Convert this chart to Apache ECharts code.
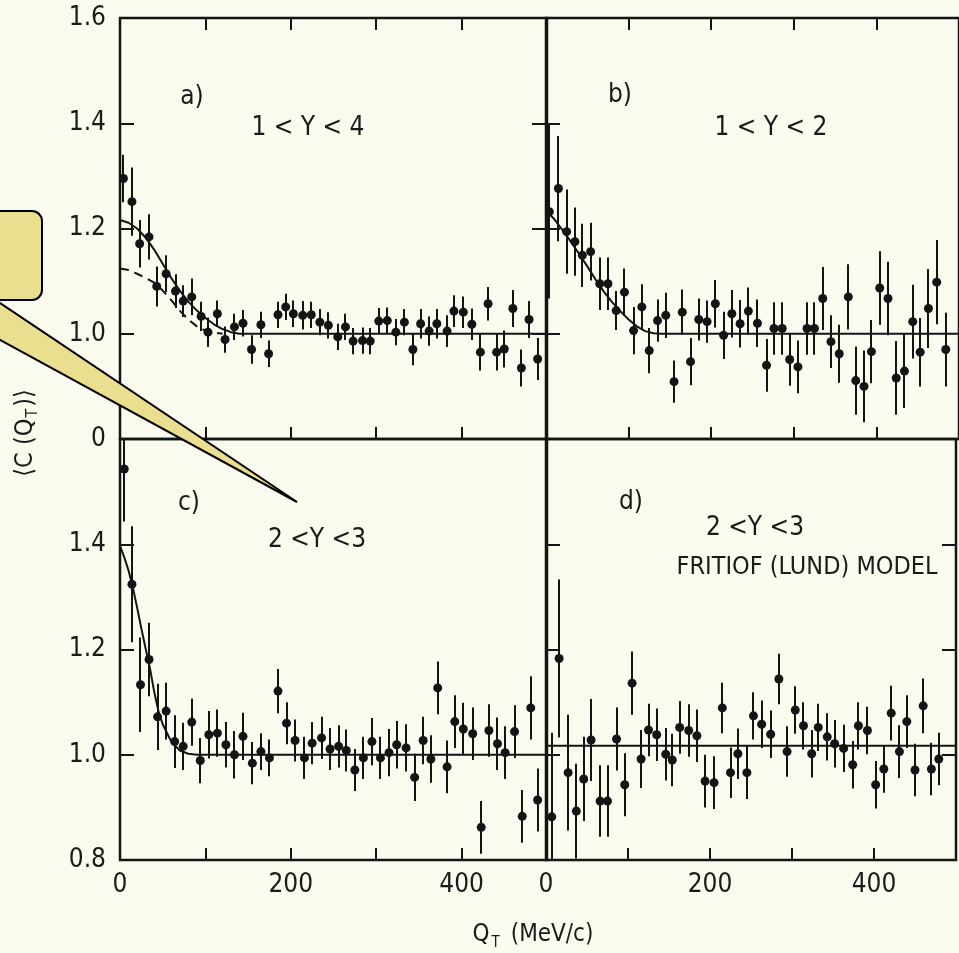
<!DOCTYPE html>
<html>
<head>
<meta charset="utf-8">
<script src="https://cdn.jsdelivr.net/npm/echarts@6/dist/echarts.min.js"></script>
<style>
html,body{margin:0;padding:0;background:#FBFAEF;}
#c{width:959px;height:953px;}
</style>
</head>
<body>
<div id="c"></div>
<script>
// ---------- data ----------
// Panel a) 1 < Y < 4
const aX = [4,14,23,34,43,54,65,74,84,95,103,114,123,134,144,154,165,174,185,194,203,214,224,234,244,255,264,273,284,293,303,313,323,333,343,352,362,371,383,391,402,412,422,431,441,450,460,470,479,489];
const aY = [1.295,1.251,1.171,1.184,1.090,1.114,1.081,1.062,1.070,1.033,1.003,1.038,0.989,1.013,1.020,0.970,1.017,0.962,1.036,1.051,1.038,1.035,1.036,1.022,1.016,0.994,1.013,0.986,0.987,0.986,1.024,1.025,1.003,1.022,0.970,1.019,1.005,1.019,1.005,1.043,1.041,1.018,0.965,1.057,0.965,0.971,1.048,0.935,1.027,0.952];
const aE = [0.045,0.065,0.045,0.043,0.038,0.035,0.032,0.030,0.035,0.028,0.028,0.025,0.025,0.025,0.025,0.027,0.025,0.025,0.025,0.025,0.025,0.027,0.025,0.025,0.025,0.025,0.025,0.025,0.025,0.025,0.025,0.025,0.025,0.025,0.030,0.028,0.028,0.028,0.030,0.030,0.030,0.030,0.035,0.032,0.035,0.035,0.035,0.035,0.035,0.040];
const aFitX = [0,10,20,30,40,50,60,70,80,90,100,110,120,130,140,500];
const aFitY = [1.216,1.211,1.200,1.183,1.160,1.133,1.106,1.082,1.061,1.044,1.030,1.018,1.009,1.003,1.000,1.000];
const aDashX = [0,10,20,30,40,50,60,70,80,90,100,110,120];
const aDashY = [1.124,1.121,1.114,1.106,1.097,1.082,1.064,1.044,1.027,1.014,1.006,1.002,1.000];

// Panel b) 1 < Y < 2
const bX = [4,15,25,35,44,54,65,75,85,95,106,116,125,135,145,155,165,175,185,195,205,215,225,235,245,256,267,276,286,295,305,316,325,335,345,355,366,375,385,394,404,414,424,434,444,453,463,473,484];
const bY = [1.232,1.276,1.194,1.175,1.149,1.156,1.095,1.095,1.044,1.079,1.006,1.051,0.968,1.025,1.035,0.909,1.041,0.947,1.027,1.023,1.057,0.997,1.038,1.019,1.043,1.020,0.940,1.010,1.010,0.951,0.937,1.010,1.010,1.067,0.985,0.962,1.070,0.911,0.900,0.966,1.087,1.067,0.916,0.929,1.023,0.965,1.048,1.098,0.970];
const bE = [0.165,0.100,0.080,0.065,0.060,0.055,0.050,0.050,0.037,0.045,0.045,0.043,0.043,0.040,0.043,0.040,0.043,0.045,0.040,0.040,0.045,0.045,0.045,0.045,0.045,0.045,0.050,0.050,0.050,0.050,0.050,0.050,0.050,0.060,0.050,0.055,0.062,0.065,0.068,0.060,0.070,0.070,0.070,0.070,0.070,0.065,0.075,0.080,0.070];
const bFitX = [0,10,20,30,40,50,60,70,80,90,100,110,120,130,140,500];
const bFitY = [1.234,1.218,1.197,1.175,1.152,1.128,1.103,1.080,1.060,1.043,1.027,1.014,1.005,1.001,1.000,1.000];

// Panel c) 2 < Y < 3
const cX = [5,14,24,34,44,54,64,74,84,94,104,114,124,134,144,155,165,175,185,195,205,216,225,236,246,256,265,275,285,295,305,315,324,335,345,355,364,372,383,392,402,413,423,432,442,451,462,471,481,489];
const cY = [1.543,1.324,1.133,1.181,1.072,1.083,1.025,1.016,1.062,0.989,1.038,1.041,1.019,1.000,1.035,0.984,1.006,0.994,1.121,1.060,1.027,0.994,1.022,1.032,1.011,1.016,1.008,0.971,0.994,1.025,0.994,1.004,1.019,1.013,0.957,1.027,0.992,1.127,0.977,1.063,1.049,1.040,0.862,1.046,1.021,1.004,1.044,0.883,1.089,0.914];
const cE = [0.100,0.110,0.090,0.070,0.063,0.054,0.050,0.045,0.045,0.043,0.045,0.045,0.043,0.045,0.045,0.040,0.035,0.035,0.042,0.040,0.040,0.040,0.040,0.040,0.040,0.040,0.040,0.040,0.040,0.045,0.040,0.045,0.045,0.045,0.045,0.045,0.045,0.050,0.050,0.050,0.050,0.050,0.050,0.050,0.050,0.050,0.050,0.050,0.060,0.060];
const cFitX = [0,5,10,15,20,25,30,35,40,45,50,60,70,80,90,500];
const cFitY = [1.397,1.375,1.350,1.318,1.280,1.240,1.202,1.165,1.120,1.083,1.058,1.025,1.008,1.002,1.000,1.000];

// Panel d) 2 < Y < 3, FRITIOF (LUND) MODEL
const dX = [7,16,27,37,46,55,66,75,86,96,105,116,125,135,146,154,163,174,184,194,205,215,225,234,245,253,263,274,284,294,304,314,324,332,343,352,363,374,381,392,402,412,421,431,440,450,460,470,479];
const dY = [0.882,1.183,0.966,0.893,0.954,1.028,0.912,0.912,1.030,0.943,1.136,0.992,1.047,1.038,1.001,0.990,1.052,1.046,1.036,0.950,0.947,1.089,0.966,1.002,0.966,1.074,1.058,1.039,1.144,1.006,1.085,1.055,1.002,1.052,1.034,1.021,1.012,0.981,1.055,1.046,0.943,0.973,1.079,1.006,1.063,0.971,1.093,0.973,0.992];
const dE = [0.160,0.150,0.110,0.090,0.080,0.078,0.068,0.068,0.060,0.060,0.060,0.055,0.050,0.050,0.050,0.050,0.050,0.050,0.050,0.050,0.050,0.048,0.048,0.048,0.050,0.045,0.045,0.045,0.048,0.048,0.045,0.045,0.045,0.045,0.045,0.045,0.045,0.045,0.045,0.045,0.045,0.045,0.052,0.050,0.050,0.050,0.052,0.050,0.050];
const dRefX = [0,500];
const dRefY = [1.017,1.017];

// axis ticks / labels
const xMin = 0, xMax = 500, xStep = 100;
const xLabelsShown = [0,200,400];
const yMin = 0.8, yMax = 1.6, yStep = 0.2;

// ---------- chart ----------
const FONT = "'Liberation Sans Narrow','DejaVu Sans Condensed','Roboto',sans-serif";
const INK = '#141414';
const TXT = '#1a1a1a';
const chart = echarts.init(document.getElementById('c'), null, {renderer:'canvas'});

const grids = [
  {left:120, top:18,  width:427, height:421},
  {left:546, top:18,  width:427, height:421},
  {left:120, top:439, width:427, height:421},
  {left:546, top:439, width:427, height:421}
].map(g => Object.assign(g, {show:true, borderColor:INK, borderWidth:2.5, backgroundColor:'transparent', containLabel:false}));

function xAx(gi, pos, labels) {
  return {
    type:'value', gridIndex:gi, position:pos, min:xMin, max:xMax, interval:xStep,
    axisLine:{show:false}, splitLine:{show:false},
    axisTick:{show:true, inside:true, length:12, lineStyle:{color:INK, width:2}},
    axisLabel:{show:labels, margin:12, color:TXT, fontSize:26, fontFamily:FONT,
      formatter: v => xLabelsShown.indexOf(Math.round(v)) >= 0 ? String(Math.round(v)) : ''}
  };
}
function yAx(gi, pos, labels, fmt) {
  return {
    type:'value', gridIndex:gi, position:pos, min:yMin, max:yMax, interval:yStep,
    axisLine:{show:false}, splitLine:{show:false},
    axisTick:{show:true, inside:true, length:14, lineStyle:{color:INK, width:2}},
    axisLabel:{show:labels, margin:14, color:TXT, fontSize:26, fontFamily:FONT, formatter:fmt}
  };
}
const fmtTop = v => Math.abs(v-0.8) < 1e-6 ? '0' : v.toFixed(1);
const fmtBot = v => Math.abs(v-1.6) < 1e-6 ? '' : v.toFixed(1);

const xAxes = [
  xAx(0,'bottom',false), xAx(1,'bottom',false), xAx(2,'bottom',true), xAx(3,'bottom',true),
  xAx(0,'top',false), xAx(1,'top',false)
];
const yAxes = [
  yAx(0,'left',true,fmtTop), yAx(1,'left',false), yAx(2,'left',true,fmtBot), yAx(3,'left',false),
  yAx(1,'right',false), yAx(3,'right',false)
];

function zip(xs, ys) { return xs.map((x,i) => [x, ys[i]]); }

function panelSeries(i, xs, ys, es) {
  const bars = xs.map((x,k) => [x, ys[k]-es[k], ys[k]+es[k]]);
  return [
    {
      type:'custom', xAxisIndex:i, yAxisIndex:i, clip:true, silent:true, z:3,
      data: bars,
      renderItem: (params, api) => {
        const p1 = api.coord([api.value(0), api.value(1)]);
        const p2 = api.coord([api.value(0), api.value(2)]);
        const px = Math.round(p1[0]);
        return {type:'line', shape:{x1:px, y1:p1[1], x2:px, y2:p2[1]},
                style:{stroke:INK, lineWidth:2}};
      }
    },
    {
      type:'scatter', xAxisIndex:i, yAxisIndex:i, data:zip(xs, ys), clip:true,
      symbol:'circle', symbolSize:9, itemStyle:{color:INK, opacity:1}, z:4, silent:true
    }
  ];
}
function lineSeries(i, xs, ys, dashed) {
  return {
    type:'line', xAxisIndex:i, yAxisIndex:i, data:zip(xs, ys), showSymbol:false,
    smooth:false, silent:true, z:2, clip:true,
    lineStyle:{color:INK, width:2, opacity:1, type: dashed ? [9,6] : 'solid'}
  };
}

const series = [].concat(
  panelSeries(0, aX, aY, aE),
  [lineSeries(0, aFitX, aFitY, false), lineSeries(0, aDashX, aDashY, true)],
  panelSeries(1, bX, bY, bE),
  [lineSeries(1, bFitX, bFitY, false)],
  panelSeries(2, cX, cY, cE),
  [lineSeries(2, cFitX, cFitY, false)],
  panelSeries(3, dX, dY, dE),
  [lineSeries(3, dRefX, dRefY, false)]
);

function txt(x, y, text, size) {
  return {
    type:'text', x:x, y:y, z:50,
    style:{text:text, fill:TXT, font:'normal ' + size + 'px ' + FONT, align:'center', verticalAlign:'middle'}
  };
}

const callFill = '#EADF8F';
const graphic = [
  txt(192, 97, 'a)', 26),
  txt(308, 128, '1 < Y < 4', 26),
  txt(620, 95, 'b)', 26),
  txt(771, 128, '1 < Y < 2', 26),
  txt(189, 503, 'c)', 26),
  txt(317, 540, '2 <Y <3', 26),
  txt(631, 502, 'd)', 26),
  txt(755, 528, '2 <Y <3', 26),
  txt(807, 567, 'FRITIOF (LUND) MODEL', 25),
  {
    type:'text', x:533, y:935, z:50,
    style:{text:'Q{s|T} (MeV/c)', fill:TXT, font:'normal 24px ' + FONT, align:'center', verticalAlign:'middle',
      rich:{s:{fontSize:15, fontFamily:FONT, fill:TXT, padding:[16,4,0,2]}}}
  },
  {
    type:'text', x:25, y:433, rotation:Math.PI/2, z:50,
    style:{text:'\u27E8C (Q{s|T})\u27E9', fill:TXT, font:'normal 25px ' + FONT, align:'center', verticalAlign:'middle',
      rich:{s:{fontSize:16, fontFamily:FONT, fill:TXT, padding:[16,2,0,1]}}}
  },
  {
    type:'rect', z:100, shape:{x:-40, y:211, width:82, height:89, r:10},
    style:{fill:callFill, stroke:'#000', lineWidth:2}
  },
  {
    type:'polygon', z:101, shape:{points:[[-73,300],[-4.5,300],[297,502]]},
    style:{fill:callFill, stroke:'#000', lineWidth:2}
  }
];

chart.setOption({
  animation:false,
  backgroundColor:'#FBFAEF',
  grid: grids,
  xAxis: xAxes,
  yAxis: yAxes,
  series: series,
  graphic: graphic
});
</script>
</body>
</html>
